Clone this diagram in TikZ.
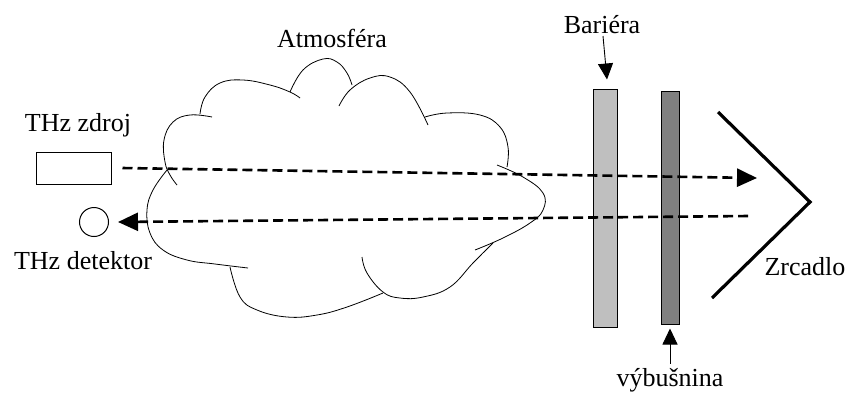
\documentclass[tikz,border=0pt]{standalone}
\usepackage{fontspec}
\setmainfont{Liberation Serif}
\usetikzlibrary{arrows.meta}

\begin{document}
\begin{tikzpicture}
	[x=1pt, y=-1pt,
	caption/.style={inner sep=0pt, font=\fontsize{26}{30}\selectfont},
	slab/.style={draw, line width=1pt, inner sep=0pt, minimum width=#1},
	beam/.style={line width=2.6pt, dash pattern=on 10pt off 5pt,
		-{Triangle[length=20pt,width=18pt]}},
	pointer/.style={line width=0.9pt, -{Triangle[length=16pt,width=15pt]}},
	cloudline/.style={line width=0.8pt}]
	\useasboundingbox (0,0) rectangle (850,392);

	% source and detector
	\node[draw, line width=1pt, minimum width=75pt, minimum height=32pt] (src) at (73.5,168) {};
	\node[draw, circle, line width=1pt, minimum size=29pt, inner sep=0pt] (det) at (94,222) {};
	\node[caption] (srctext) at (78,125) {THz zdroj};
	\node[caption] (dettext) at (83,261) {THz detektor};

	% atmosphere, drawn lobe by lobe
	\draw[cloudline] plot[smooth, tension=0.7] coordinates {(200,114) (205,97) (220,83) (243,80) (270,85) (290,92) (300,98)};
	\draw[cloudline] plot[smooth, tension=0.7] coordinates {(290,92) (303,70) (323,59) (337,62) (347,73) (352,85)};
	\draw[cloudline] plot[smooth, tension=0.7] coordinates {(339,106) (350,90) (370,78) (390,77) (410,92) (428,125)};
	\draw[cloudline] plot[smooth, tension=0.7] coordinates {(425,117) (447,113) (480,115) (500,127) (508,147) (507,167)};
	\draw[cloudline] plot[smooth, tension=0.7] coordinates {(497,165) (523,177) (543,193) (543,210) (530,223) (503,238) (475,250)};
	\draw[cloudline] plot[smooth, tension=0.7] coordinates {(493,243) (473,263) (450,287) (423,297) (400,298) (383,292) (367,273) (362,257)};
	\draw[cloudline] plot[smooth, tension=0.7] coordinates {(383,293) (347,307) (317,315) (287,317) (257,310) (240,297) (230,267)};
	\draw[cloudline] plot[smooth, tension=0.7] coordinates {(248,268) (215,264) (187,260) (163,250) (150,233) (147,210) (153,190) (167,170)};
	\draw[cloudline] plot[smooth, tension=0.7] coordinates {(212,117) (190,115) (173,122) (164,140) (165,162) (170,175) (177,185)};
	\node[caption] (atm) at (332,38) {Atmosféra};

	% barrier, explosive and mirror
	\node[slab=24pt, minimum height=238pt, fill=black!25] (bar) at (605,208) {};
	\node[slab=18pt, minimum height=233pt, fill=black!50] (exp) at (670,207.5) {};
	\coordinate (mtop) at (718,112);
	\coordinate (mtip) at (810,202);
	\coordinate (mbot) at (712,298);
	\draw[line width=3.2pt] (mtop) -- (mtip) -- (mbot);

	\node[caption] (bartext) at (602,25) {Bariéra};
	\node[caption] (exptext) at (670,380) {výbušnina};
	\node[caption] (mirtext) at (805,267) {Zrcadlo};
	\draw[pointer] (603,36) -- ([yshift=9pt]bar.north -| 607,0);
	\draw[pointer] (exptext.north -| exp.south) ++(0,-4) -- ([yshift=-4pt]exp.south);

	% THz beam there and back
	\coordinate (outend) at (757,178);
	\coordinate (backstart) at (748,216);
	\draw[beam] ([xshift=11pt]src.east) -- (outend);
	\draw[beam] (backstart) -- ([xshift=9pt]det.east);
\end{tikzpicture}
\end{document}
